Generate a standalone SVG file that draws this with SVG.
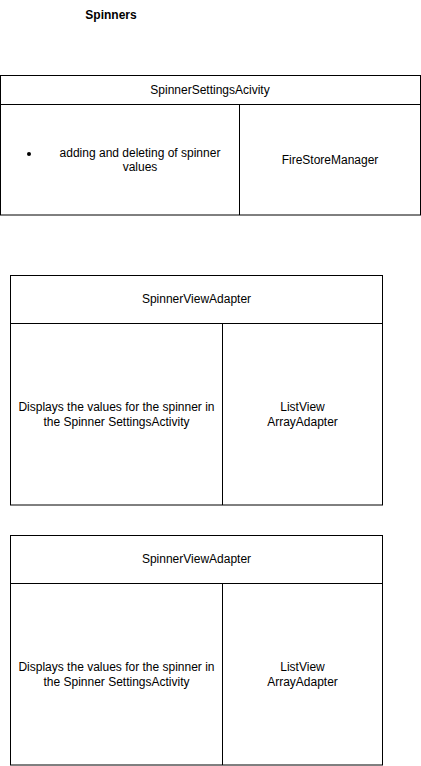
<svg xmlns="http://www.w3.org/2000/svg" width="421" height="766" viewBox="0 0 421 766">
<style>
.b{fill:#fff;stroke:#000;stroke-width:1}
.l{stroke:#000;stroke-width:1;fill:none}
text{font-family:"Liberation Sans",Arial,sans-serif;font-size:12px;fill:#000;text-anchor:middle;dominant-baseline:central}
.t{font-weight:bold}
</style>
<rect width="421" height="766" fill="#fff"/>
<g id="title"><text class="t" x="111" y="15">Spinners</text></g>
<g id="spinnerSettings">
<rect class="b" x="0.5" y="75.5" width="420" height="139.5"/>
<line class="l" x1="0.5" y1="104.5" x2="420.5" y2="104.5"/>
<line class="l" x1="239.5" y1="104.5" x2="239.5" y2="215"/>
<text x="210" y="89.5">SpinnerSettingsAcivity</text>
<circle cx="29" cy="154" r="2" fill="#000"/>
<text x="140" y="153">adding and deleting of spinner</text>
<text x="140" y="167">values</text>
<text x="330" y="159.5">FireStoreManager</text>
</g>
<g id="adapter1">
<rect class="b" x="10.5" y="275.5" width="372" height="229.5"/>
<line class="l" x1="10.5" y1="323.5" x2="382.5" y2="323.5"/>
<line class="l" x1="222.5" y1="323.5" x2="222.5" y2="505"/>
<text x="196.5" y="299">SpinnerViewAdapter</text>
<text x="116.5" y="407">Displays the values for the spinner in</text>
<text x="116.5" y="421.5">the Spinner SettingsActivity</text>
<text x="302.5" y="407">ListView</text>
<text x="302.5" y="421.5">ArrayAdapter</text>
</g>
<g id="adapter2">
<rect class="b" x="10.5" y="535.5" width="372" height="229.5"/>
<line class="l" x1="10.5" y1="583.5" x2="382.5" y2="583.5"/>
<line class="l" x1="222.5" y1="583.5" x2="222.5" y2="765"/>
<text x="196.5" y="559">SpinnerViewAdapter</text>
<text x="116.5" y="667">Displays the values for the spinner in</text>
<text x="116.5" y="681.5">the Spinner SettingsActivity</text>
<text x="302.5" y="667">ListView</text>
<text x="302.5" y="681.5">ArrayAdapter</text>
</g>
<g id="connectors"></g>
</svg>
